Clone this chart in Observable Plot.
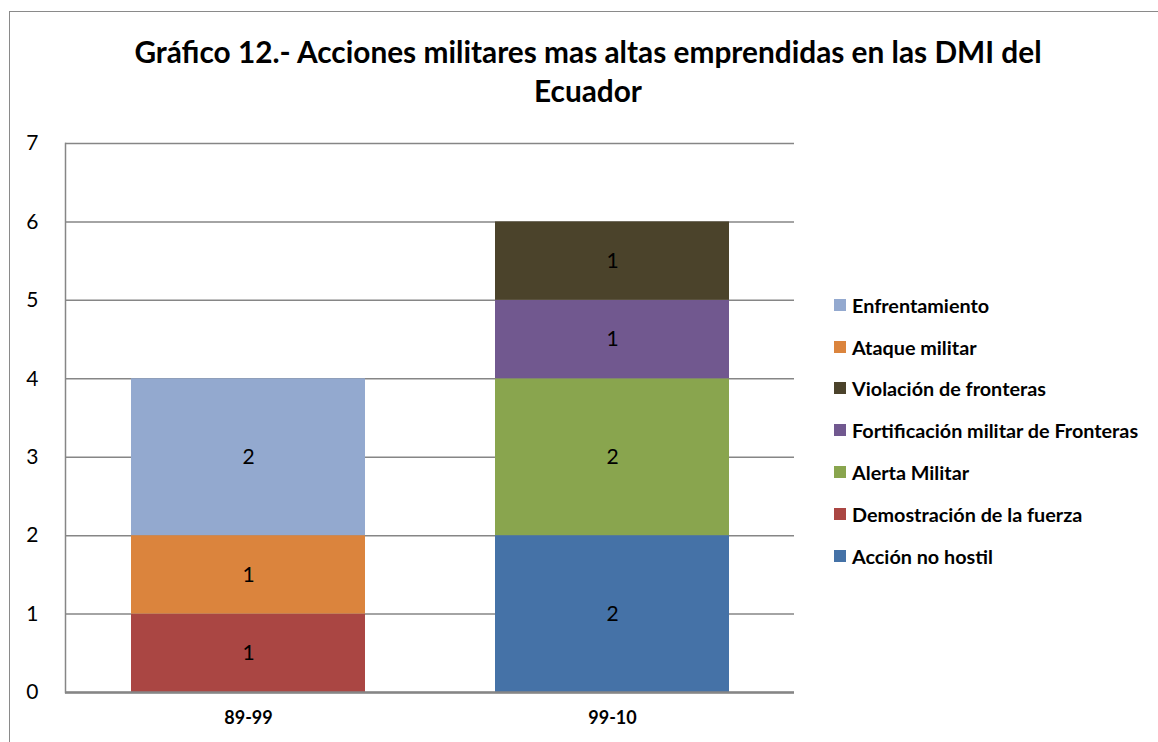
<!DOCTYPE html>
<html>
<head>
<meta charset="utf-8">
<script src="https://cdn.jsdelivr.net/npm/d3@7"></script>
<script src="https://cdn.jsdelivr.net/npm/@observablehq/plot@0.6"></script>
<style>
  html, body { margin: 0; padding: 0; background: #fff; }
  #wrap { position: relative; width: 1158px; height: 742px; overflow: hidden; font-family: Lato, "Open Sans", sans-serif; }
  #border { position: absolute; left: 9px; top: 11px; width: 1200px; height: 800px; border-left: 1.5px solid #8a8a8a; border-top: 1.5px solid #8a8a8a; }
  #title { position: absolute; left: 0; top: 32px; width: 1176px; text-align: center; font-weight: bold; font-size: 29.8px; line-height: 39px; color: #000; }
  #legend { position: absolute; left: 834px; top: 284px; }
  .item { display: flex; align-items: center; height: 41.8px; font-weight: bold; font-size: 19.8px; color: #000; white-space: nowrap; }
  .sw { width: 12px; height: 12px; margin-right: 6px; flex: none; }
  #chart { position: absolute; left: 0; top: 0; }
</style>
</head>
<body>
<div id="wrap">
  <div id="chart"></div>
  <div id="border"></div>
  <div id="title">Gráfico 12.- Acciones militares mas altas emprendidas en las DMI del<br>Ecuador</div>
  <div id="legend"></div>
</div>
<script>
// Data
const titleText = "Gráfico 12.- Acciones militares mas altas emprendidas en las DMI del Ecuador";
const categories = ["89-99", "99-10"];
// series in stacking order (bottom to top)
const seriesNames = [
  "Acción no hostil",
  "Demostración de la fuerza",
  "Alerta Militar",
  "Fortificación militar de Fronteras",
  "Violación de fronteras",
  "Ataque militar",
  "Enfrentamiento"
];
const seriesColors = ["#4572A7", "#AA4643", "#89A54E", "#71588F", "#4B432B", "#DB843D", "#93A9CF"];
const values8999 = [0, 1, 0, 0, 0, 1, 2];
const values9910 = [2, 0, 2, 1, 1, 0, 0];
const yTicks = [0, 1, 2, 3, 4, 5, 6, 7];

const rows = [];
seriesNames.forEach((s, i) => {
  if (values8999[i] > 0) rows.push({cat: categories[0], series: s, value: values8999[i]});
  if (values9910[i] > 0) rows.push({cat: categories[1], series: s, value: values9910[i]});
});

const chart = Plot.plot({
  width: 1158,
  height: 742,
  marginLeft: 65,
  marginRight: 364,
  marginTop: 143,
  marginBottom: 50,
  style: {fontFamily: "Lato, 'Open Sans', sans-serif", background: "transparent"},
  x: {domain: categories, paddingInner: 0.358, paddingOuter: 0.179, label: null},
  y: {domain: [0, 7], ticks: yTicks, label: null},
  color: {domain: seriesNames, range: seriesColors},
  marks: [
    Plot.gridY(yTicks, {stroke: "#868686", strokeOpacity: 1, strokeWidth: 1.5}),
    Plot.barY(rows, Plot.stackY({x: "cat", y: "value", fill: "series", order: seriesNames})),
    Plot.text(rows, Plot.stackY({x: "cat", y: "value", z: "series", order: seriesNames, text: d => String(d.value), fontSize: 21, fill: "#000"})),
    Plot.frame({anchor: "left", stroke: "#868686", strokeWidth: 1.5}),
    Plot.ruleY([0], {stroke: "#868686", strokeWidth: 2.5}),
    Plot.axisY(yTicks, {tickSize: 0, tickPadding: 27, fontSize: 21, fill: "#000", textAnchor: "end", tickFormat: d3.format("d")}),
    Plot.axisX(categories, {tickSize: 0, tickPadding: 19, fontSize: 18, fontWeight: "bold", fill: "#000"})
  ]
});
document.getElementById("chart").appendChild(chart);

// Legend (top-to-bottom = reverse of stacking order)
const legend = document.getElementById("legend");
seriesNames.slice().reverse().forEach((s) => {
  const i = seriesNames.indexOf(s);
  const item = document.createElement("div");
  item.className = "item";
  const sw = document.createElement("span");
  sw.className = "sw";
  sw.style.background = seriesColors[i];
  item.appendChild(sw);
  item.appendChild(document.createTextNode(s));
  legend.appendChild(item);
});
</script>
</body>
</html>
